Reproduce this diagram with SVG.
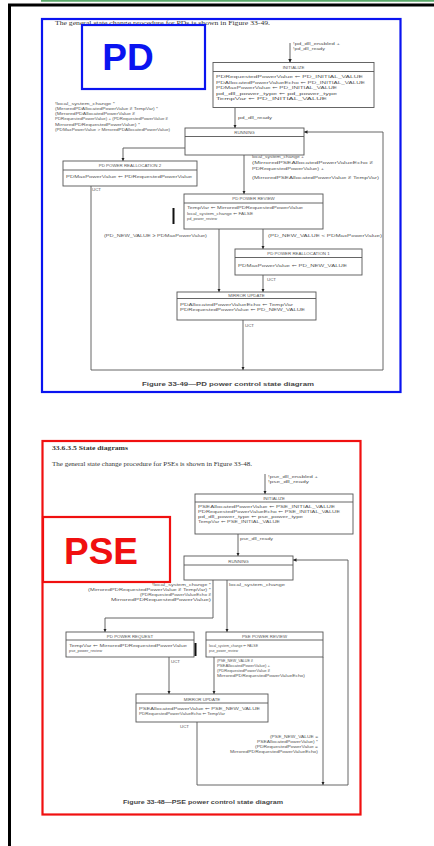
<svg xmlns="http://www.w3.org/2000/svg" width="434" height="846" viewBox="0 0 434 846">
<style>
.t{font-family:"Liberation Sans","DejaVu Sans",sans-serif;font-size:4.4px;fill:#555}
.ti{font-family:"Liberation Sans","DejaVu Sans",sans-serif;font-size:4.4px;fill:#555;text-anchor:middle}
.te{font-family:"Liberation Sans","DejaVu Sans",sans-serif;font-size:4.4px;fill:#555;text-anchor:end}
.hd{font-family:"Liberation Serif","DejaVu Serif",serif;font-size:5.4px;fill:#333}
.cap{font-family:"Liberation Sans",sans-serif;font-size:5.6px;font-weight:bold;fill:#444;text-anchor:middle}
.box{fill:#fff;stroke:#555;stroke-width:0.9}
.ln{fill:none;stroke:#555;stroke-width:0.9}
.arr{fill:none;stroke:#555;stroke-width:0.9;marker-end:url(#ah)}
.big{font-family:"Liberation Sans",Arial,sans-serif;font-weight:bold;font-size:37px;text-anchor:middle}
</style>
<defs>
<marker id="ah" viewBox="0 0 6 6" refX="6" refY="3" markerWidth="3.5" markerHeight="3.5" markerUnits="userSpaceOnUse" orient="auto"><path d="M0,0 L6,3 L0,6 z" fill="#222"/></marker>
</defs>
<rect width="434" height="846" fill="#fff"/>
<!-- page frame -->
<line x1="41" y1="0.8" x2="434" y2="0.8" stroke="#5aa96a" stroke-width="1.8"/>
<path d="M9.5,850 V5 H440" fill="none" stroke="#000" stroke-width="3"/>

<!-- ===== PD diagram ===== -->
<g id="pd-frame">
<rect x="42" y="19" width="358.5" height="373" fill="none" stroke="#0a14f0" stroke-width="2.2"/>
<text class="hd" x="55" y="24.5" textLength="215" lengthAdjust="spacingAndGlyphs">The general state change procedure for PDs is shown in Figure 33-49.</text>
<text class="cap" x="228" y="386" textLength="172" lengthAdjust="spacingAndGlyphs">Figure 33-49—PD power control state diagram</text>
</g>

<g id="pd-connectors">
<line class="arr" x1="290" y1="43" x2="290" y2="62.5"/>
<line class="arr" x1="235" y1="108" x2="235" y2="128"/>
<path class="arr" d="M185,148 H123 V161"/>
<line class="arr" x1="244" y1="155" x2="244" y2="194"/>
<line class="arr" x1="219" y1="229" x2="219" y2="292"/>
<line class="arr" x1="263" y1="229" x2="263" y2="249"/>
<line class="arr" x1="263" y1="275" x2="263" y2="292"/>
<path class="ln" d="M91,186 V370 H383 V132"/>
<line class="arr" x1="383" y1="132" x2="304" y2="132"/>
<line class="arr" x1="243" y1="320" x2="243" y2="370"/>
<text class="t" x="293" y="45" textLength="47" lengthAdjust="spacingAndGlyphs">!pd_dll_enabled +</text>
<text class="t" x="293" y="50" textLength="32" lengthAdjust="spacingAndGlyphs">!pd_dll_ready</text>
<text class="t" x="238" y="119" textLength="34" lengthAdjust="spacingAndGlyphs">pd_dll_ready</text>
<text class="t" x="55" y="105" textLength="60" lengthAdjust="spacingAndGlyphs">!local_system_change *</text>
<text class="t" x="55" y="110" textLength="103" lengthAdjust="spacingAndGlyphs">(MirroredPDAllocatedPowerValue ≠ TempVar) *</text>
<text class="t" x="55" y="114.5" textLength="80" lengthAdjust="spacingAndGlyphs">(MirroredPDAllocatedPowerValue ≠</text>
<text class="t" x="55" y="120" textLength="113" lengthAdjust="spacingAndGlyphs">PDRequestedPowerValue) + (PDRequestedPowerValue ≠</text>
<text class="t" x="55" y="126" textLength="85" lengthAdjust="spacingAndGlyphs">MirroredPDRequestedPowerValue) *</text>
<text class="t" x="55" y="131" textLength="115" lengthAdjust="spacingAndGlyphs">(PDMaxPowerValue &gt; MirroredPDAllocatedPowerValue)</text>
<text class="t" x="252" y="158" textLength="52" lengthAdjust="spacingAndGlyphs">local_system_change +</text>
<text class="t" x="252" y="163.5" textLength="121" lengthAdjust="spacingAndGlyphs">(MirroredPSEAllocatedPowerValueEcho ≠</text>
<text class="t" x="252" y="169.5" textLength="72" lengthAdjust="spacingAndGlyphs">PDRequestedPowerValue) +</text>
<text class="t" x="252" y="179" textLength="127" lengthAdjust="spacingAndGlyphs">(MirroredPSEAllocatedPowerValue ≠ TempVar)</text>
<text class="t" x="104" y="237" textLength="103" lengthAdjust="spacingAndGlyphs">(PD_NEW_VALUE ≥ PDMaxPowerValue)</text>
<text class="t" x="268" y="237" textLength="114" lengthAdjust="spacingAndGlyphs">(PD_NEW_VALUE &lt; PDMaxPowerValue)</text>
<text class="t" x="92" y="190.5">UCT</text>
<text class="t" x="267" y="281">UCT</text>
<text class="t" x="245" y="327">UCT</text>
</g>

<g id="pd-initialize">
<rect class="box" x="213" y="62.5" width="161" height="45"/>
<line class="ln" x1="213" y1="71.5" x2="374" y2="71.5"/>
<text class="ti" x="293.5" y="69">INITIALIZE</text>
<text class="t" x="216" y="78" textLength="147" lengthAdjust="spacingAndGlyphs">PDRequestedPowerValue ⇐ PD_INITIAL_VALUE</text>
<text class="t" x="216" y="83.5" textLength="149" lengthAdjust="spacingAndGlyphs">PDAllocatedPowerValueEcho ⇐ PD_INITIAL_VALUE</text>
<text class="t" x="216" y="89" textLength="121" lengthAdjust="spacingAndGlyphs">PDMaxPowerValue ⇐ PD_INITIAL_VALUE</text>
<text class="t" x="216" y="94.5" textLength="121" lengthAdjust="spacingAndGlyphs">pd_dll_power_type ⇐ pd_power_type</text>
<text class="t" x="216" y="100" textLength="111" lengthAdjust="spacingAndGlyphs">TempVar ⇐ PD_INITIAL_VALUE</text>
</g>

<g id="pd-running">
<rect class="box" x="185" y="128" width="119" height="27"/>
<line class="ln" x1="185" y1="136.5" x2="304" y2="136.5"/>
<text class="ti" x="244.5" y="134">RUNNING</text>
</g>

<g id="pd-realloc2">
<rect class="box" x="63" y="161" width="134" height="25"/>
<line class="ln" x1="63" y1="170" x2="197" y2="170"/>
<text class="ti" x="130" y="167">PD POWER REALLOCATION 2</text>
<text class="t" x="66" y="178" textLength="126" lengthAdjust="spacingAndGlyphs">PDMaxPowerValue ⇐ PDRequestedPowerValue</text>
</g>

<g id="pd-review">
<rect class="box" x="184" y="194" width="139" height="35"/>
<line class="ln" x1="184" y1="203" x2="323" y2="203"/>
<text class="ti" x="253.5" y="200">PD POWER REVIEW</text>
<text class="t" x="187" y="209" textLength="116" lengthAdjust="spacingAndGlyphs">TempVar ⇐ MirroredPDRequestedPowerValue</text>
<text class="t" x="187" y="214.5" textLength="66" lengthAdjust="spacingAndGlyphs">local_system_change ⇐ FALSE</text>
<text class="t" x="187" y="220" textLength="30" lengthAdjust="spacingAndGlyphs">pd_power_review</text>
<rect x="172.5" y="208" width="2" height="16" fill="#111"/>
</g>

<g id="pd-realloc1">
<rect class="box" x="235" y="249" width="127" height="26"/>
<line class="ln" x1="235" y1="257.5" x2="362" y2="257.5"/>
<text class="ti" x="298.5" y="255">PD POWER REALLOCATION 1</text>
<text class="t" x="238" y="266.5" textLength="109" lengthAdjust="spacingAndGlyphs">PDMaxPowerValue ⇐ PD_NEW_VALUE</text>
</g>

<g id="pd-mirror">
<rect class="box" x="177" y="292" width="139" height="28"/>
<line class="ln" x1="177" y1="298.5" x2="316" y2="298.5"/>
<text class="ti" x="246.5" y="296.8">MIRROR UPDATE</text>
<text class="t" x="180" y="305.5" textLength="113" lengthAdjust="spacingAndGlyphs">PDAllocatedPowerValueEcho ⇐ TempVar</text>
<text class="t" x="180" y="311" textLength="125" lengthAdjust="spacingAndGlyphs">PDRequestedPowerValue ⇐ PD_NEW_VALUE</text>
</g>

<g id="pd-label">
<rect x="82" y="25" width="123" height="64" fill="#fff" stroke="#0a14f0" stroke-width="2.2"/>
<text class="big" x="128" y="70" fill="#0a14f0">PD</text>
</g>

<!-- ===== PSE diagram ===== -->
<g id="pse-frame">
<rect x="42.5" y="441" width="318" height="373.5" fill="none" stroke="#f01010" stroke-width="2.2"/>
<text class="hd" x="52" y="449.5" font-weight="bold" textLength="76" lengthAdjust="spacingAndGlyphs">33.6.3.5 State diagrams</text>
<text class="hd" x="52" y="466" textLength="200" lengthAdjust="spacingAndGlyphs">The general state change procedure for PSEs is shown in Figure 33-48.</text>
<text class="cap" x="203" y="804" textLength="160" lengthAdjust="spacingAndGlyphs">Figure 33-48—PSE power control state diagram</text>
</g>

<g id="pse-connectors">
<line class="arr" x1="265" y1="474" x2="265" y2="494"/>
<line class="arr" x1="238" y1="534" x2="238" y2="556"/>
<path class="arr" d="M213,580 V618 H105 V632"/>
<line class="arr" x1="227" y1="580" x2="227" y2="632"/>
<line class="arr" x1="169" y1="657" x2="169" y2="694"/>
<line class="arr" x1="214" y1="657" x2="214" y2="694"/>
<line class="arr" x1="323" y1="657" x2="323" y2="785"/>
<path class="ln" d="M197,722 V785 H348 V560"/>
<line class="arr" x1="348" y1="560" x2="293" y2="560"/>
<text class="t" x="268" y="478" textLength="50" lengthAdjust="spacingAndGlyphs">!pse_dll_enabled +</text>
<text class="t" x="268" y="483" textLength="41" lengthAdjust="spacingAndGlyphs">!pse_dll_ready</text>
<text class="t" x="240" y="540" textLength="33" lengthAdjust="spacingAndGlyphs">pse_dll_ready</text>
<text class="te" x="211" y="585.5" textLength="59" lengthAdjust="spacingAndGlyphs">!local_system_change *</text>
<text class="te" x="211" y="590.5" textLength="123" lengthAdjust="spacingAndGlyphs">(MirroredPDRequestedPowerValue ≠ TempVar) *</text>
<text class="te" x="211" y="595.5" textLength="71" lengthAdjust="spacingAndGlyphs">(PDRequestedPowerValueEcho ≠</text>
<text class="te" x="211" y="601" textLength="100" lengthAdjust="spacingAndGlyphs">MirroredPDRequestedPowerValue)</text>
<text class="t" x="229" y="586" textLength="56" lengthAdjust="spacingAndGlyphs">local_system_change</text>
<text class="t" x="217" y="662" textLength="36" lengthAdjust="spacingAndGlyphs">(PSE_NEW_VALUE ≠</text>
<text class="t" x="217" y="667" textLength="53" lengthAdjust="spacingAndGlyphs">PSEAllocatedPowerValue) +</text>
<text class="t" x="217" y="672" textLength="53" lengthAdjust="spacingAndGlyphs">(PDRequestedPowerValue ≠</text>
<text class="t" x="217" y="677" textLength="88" lengthAdjust="spacingAndGlyphs">MirroredPDRequestedPowerValueEcho)</text>
<text class="te" x="318" y="737.5" textLength="48" lengthAdjust="spacingAndGlyphs">(PSE_NEW_VALUE =</text>
<text class="te" x="318" y="742.5" textLength="61" lengthAdjust="spacingAndGlyphs">PSEAllocatedPowerValue) *</text>
<text class="te" x="318" y="747.5" textLength="63" lengthAdjust="spacingAndGlyphs">(PDRequestedPowerValue =</text>
<text class="te" x="318" y="752.5" textLength="88" lengthAdjust="spacingAndGlyphs">MirroredPDRequestedPowerValueEcho)</text>
<text class="t" x="171" y="663">UCT</text>
<text class="t" x="180" y="728">UCT</text>
</g>

<g id="pse-initialize">
<rect class="box" x="195" y="494" width="158" height="40"/>
<line class="ln" x1="195" y1="502" x2="353" y2="502"/>
<text class="ti" x="274" y="499.8">INITIALIZE</text>
<text class="t" x="198" y="507.5" textLength="137" lengthAdjust="spacingAndGlyphs">PSEAllocatedPowerValue ⇐ PSE_INITIAL_VALUE</text>
<text class="t" x="198" y="512.5" textLength="142" lengthAdjust="spacingAndGlyphs">PDRequestedPowerValueEcho ⇐ PSE_INITIAL_VALUE</text>
<text class="t" x="198" y="517.5" textLength="105" lengthAdjust="spacingAndGlyphs">pd_dll_power_type ⇐ pse_power_type</text>
<text class="t" x="198" y="522.5" textLength="82" lengthAdjust="spacingAndGlyphs">TempVar ⇐ PSE_INITIAL_VALUE</text>
</g>

<g id="pse-running">
<rect class="box" x="184" y="556" width="109" height="24"/>
<line class="ln" x1="184" y1="565" x2="293" y2="565"/>
<text class="ti" x="238.5" y="562.5">RUNNING</text>
</g>

<g id="pse-pdrequest">
<rect class="box" x="66" y="632" width="128" height="25"/>
<line class="ln" x1="66" y1="640" x2="194" y2="640"/>
<text class="ti" x="130" y="637.8">PD POWER REQUEST</text>
<text class="t" x="69" y="646.5" textLength="118" lengthAdjust="spacingAndGlyphs">TempVar ⇐ MirroredPDRequestedPowerValue</text>
<text class="t" x="69" y="651.5" textLength="33" lengthAdjust="spacingAndGlyphs">pse_power_review</text>
<rect x="194.5" y="643" width="2" height="13" fill="#111"/>
</g>

<g id="pse-review">
<rect class="box" x="206" y="632" width="117" height="25"/>
<line class="ln" x1="206" y1="640" x2="323" y2="640"/>
<text class="ti" x="264.5" y="637.8">PSE POWER REVIEW</text>
<text class="t" x="209" y="646.5" textLength="49" lengthAdjust="spacingAndGlyphs">local_system_change ⇐ FALSE</text>
<text class="t" x="209" y="651.5" textLength="29" lengthAdjust="spacingAndGlyphs">pse_power_review</text>
</g>

<g id="pse-mirror">
<rect class="box" x="136" y="694" width="132" height="28"/>
<line class="ln" x1="136" y1="703" x2="268" y2="703"/>
<text class="ti" x="202" y="700.5">MIRROR UPDATE</text>
<text class="t" x="139" y="709.5" textLength="121" lengthAdjust="spacingAndGlyphs">PSEAllocatedPowerValue ⇐ PSE_NEW_VALUE</text>
<text class="t" x="139" y="714.5" textLength="86" lengthAdjust="spacingAndGlyphs">PDRequestedPowerValueEcho ⇐ TempVar</text>
</g>

<g id="pse-label">
<rect x="43" y="517" width="127" height="65" fill="#fff" stroke="#f01010" stroke-width="2.2"/>
<text class="big" x="101" y="564" fill="#f01010">PSE</text>
</g>
</svg>
